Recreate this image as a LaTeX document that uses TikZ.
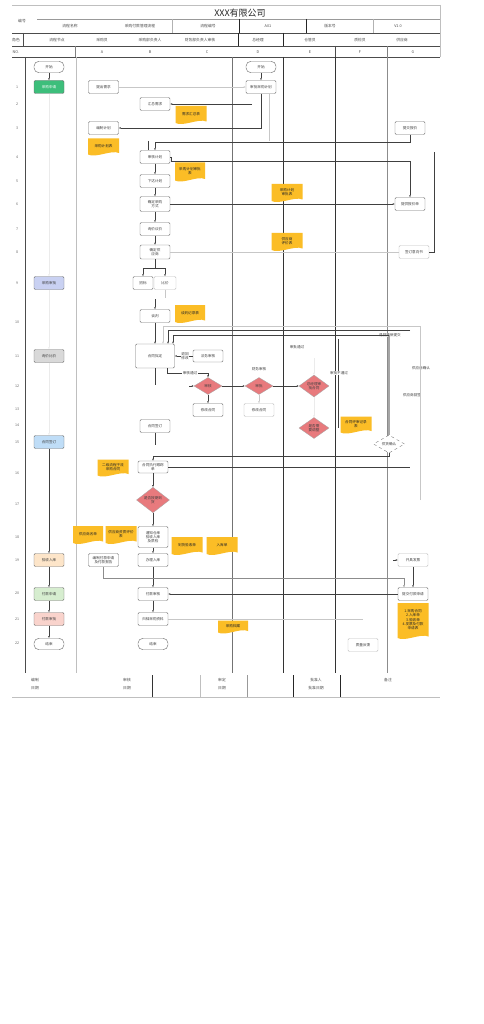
\documentclass[tikz,border=0pt]{standalone}
\usepackage{fontspec}
\setmainfont{Noto Sans CJK SC}
\usetikzlibrary{shapes.geometric,arrows.meta}
\definecolor{docorange}{HTML}{FBBD26}
\definecolor{diared}{HTML}{E87A7D}
\definecolor{cgreen}{HTML}{3DBE7B}
\definecolor{clav}{HTML}{C9D1F2}
\definecolor{cgray}{HTML}{D9D9D9}
\definecolor{cblue}{HTML}{BFDDF7}
\definecolor{cpeach}{HTML}{FDE5C9}
\definecolor{clgreen}{HTML}{D6EDCF}
\definecolor{cpink}{HTML}{F9D3CC}
\newcommand{\docnode}[6]{%
  \fill[docorange] ({#2-#4/2},{#3-#5/2}) -- ({#2+#4/2},{#3-#5/2}) -- ({#2+#4/2},{#3+#5/2-2.5}) .. controls ({#2+#4/4},{#3+#5/2-6}) and ({#2-#4/4},{#3+#5/2+3}) .. ({#2-#4/2},{#3+#5/2-1}) -- cycle;
  \node[doctext] (#1) at (#2,{#3-1.2}) {#6};
}
\begin{document}
\begin{tikzpicture}[x=1pt,y=-1pt,
  tx/.style={font=\fontsize{3.6}{4.2}\selectfont, text=black!75, align=center, inner sep=0.3pt},
  htx/.style={font=\fontsize{3.8}{4.4}\selectfont, text=black!70, align=center, inner sep=0.3pt},
  box/.style={tx, draw=black!55, line width=0.45pt, fill=white, rounded corners=1.2pt, minimum width=30pt, minimum height=13pt},
  lbox/.style={box, draw=black!25},
  term/.style={box, rounded corners=5pt, minimum height=11.5pt},
  dia/.style={tx, diamond, draw=black!35, line width=0.3pt, fill=diared, minimum width=28pt, minimum height=17pt, inner sep=0pt},
  doctext/.style={tx, text=black!85},
  ln/.style={draw=black!75, line width=0.6pt},
  lt/.style={draw=black!22, line width=0.6pt},
  faint/.style={draw=black!8, line width=0.5pt},
  arr/.style={-{Latex[length=2pt,width=1.8pt]}},
  lbl/.style={tx, fill=white, inner sep=0.4pt}
]
\useasboundingbox (0,0) rectangle (483,1024);
\fill[white] (0,0) rectangle (483,1024);

% ---------- header ----------
\draw[black!25, line width=0.5pt] (12,5) -- (440,5);
\draw[black!40, line width=0.5pt] (37,19) -- (440,19);
\draw[black!70, line width=0.6pt] (12,33) -- (440,33);
\draw[black!70, line width=0.6pt] (12,46) -- (440,46);
\draw[black!70, line width=0.6pt] (12,57) -- (440,57);
\draw[black!25, line width=0.5pt] (440,5) -- (440,57);
\draw[black!30, line width=0.5pt] (172,19) -- (172,33);
\draw[black!85, line width=0.8pt] (239,19) -- (239,33);
\draw[black!85, line width=0.8pt] (306,19) -- (306,33);
\draw[black!30, line width=0.5pt] (373,19) -- (373,33);
\draw[black!70, line width=0.6pt] (23,33) -- (23,46);
\draw[black!85, line width=0.8pt] (238,33) -- (238,46);
\draw[black!85, line width=0.8pt] (283,33) -- (283,46);
\draw[black!50, line width=0.5pt] (75,46) -- (75,57);
\draw[black!70, line width=0.6pt] (335,46) -- (335,57);
\draw[black!50, line width=0.5pt] (387,46) -- (387,57);

\node[font=\fontsize{9}{10}\selectfont, text=black!85, inner sep=0pt] (title) at (240,13) {XXX有限公司};
\node[htx] (h00) at (22,21) {编号};
\node[htx] (h21) at (70,26) {流程名称};
\node[htx] (h22) at (140,26) {采购付款管理流程};
\node[htx] (h23) at (208,26) {流程编号};
\node[htx] (h24) at (268,26) {A01};
\node[htx] (h25) at (330,26) {版本号};
\node[htx] (h26) at (398,26) {V1.0};
\node[htx] (h31) at (16,40) {角色};
\node[htx] (h32) at (57,40) {流程节点};
\node[htx] (h33) at (102,40) {采购员};
\node[htx] (h34) at (150,40) {采购部负责人};
\node[htx] (h35) at (200,40) {财务部负责人审核};
\node[htx] (h36) at (258,40) {总经理};
\node[htx] (h37) at (310,40) {仓管员};
\node[htx] (h38) at (360,40) {质检员};
\node[htx] (h39) at (402,40) {供应商};
\node[htx] (h41) at (16,52) {NO.};
\node[htx] (h42) at (102,52) {A};
\node[htx] (h43) at (150,52) {B};
\node[htx] (h44) at (207,52) {C};
\node[htx] (h45) at (258,52) {D};
\node[htx] (h46) at (310,52) {E};
\node[htx] (h47) at (360,52) {F};
\node[htx] (h48) at (413,52) {G};

% ---------- lanes ----------
\draw[black!70, line width=0.6pt] (25,57) -- (25,673);
\draw[black!25, line width=0.6pt] (76,57) -- (76,673);
\draw[black!55, line width=0.6pt] (232,57) -- (232,673);
\draw[black!80, line width=0.6pt] (283,57) -- (283,673);
\draw[black!80, line width=0.6pt] (335,57) -- (335,673);
\draw[black!45, line width=0.6pt] (387,57) -- (387,673);

% ---------- footer ----------
\draw[black!25, line width=0.5pt] (12,697) -- (440,697);
\draw[black!80, line width=0.6pt] (152,675) -- (152,697);
\draw[black!25, line width=0.5pt] (200,675) -- (200,697);
\draw[black!40, line width=0.5pt] (247,675) -- (247,697);
\draw[black!85, line width=0.6pt] (293,675) -- (293,697);
\draw[black!85, line width=0.6pt] (340,675) -- (340,697);
\node[htx] (f1) at (35,680) {编制};
\node[htx] (f2) at (35,688) {日期};
\node[htx] (f3) at (127,680) {审核};
\node[htx] (f4) at (127,688) {日期};
\node[htx] (f5) at (222,680) {审定};
\node[htx] (f6) at (222,688) {日期};
\node[htx] (f7) at (316,680) {批准人};
\node[htx] (f8) at (316,688) {批准日期};
\node[htx] (f9) at (388,680) {备注};

% ---------- row numbers ----------
\foreach \n/\y in {1/87,2/104,3/128,4/157,5/181,6/204,7/229,8/252,9/283,10/322,11/356,12/386,13/409,14/425,15/442,16/473,17/504,18/537,19/560,20/593,21/619,22/643}
  \node[tx, text=black!60] (r\n) at (17,\y) {\n};

% ---------- documents ----------
\docnode{a3d}{103.5}{147}{31}{17}{采购计划表}
\docnode{b2d}{191}{115}{31}{18}{需求汇总表}
\docnode{b4d}{190}{172}{30}{19}{采购计划审批\\表}
\docnode{d6d}{287}{193}{31}{18}{采购计划\\审批表}
\docnode{d8d}{287}{242}{31}{18}{供应商\\评价表}
\docnode{b10d}{190}{314}{30}{18}{谈判记录表}
\docnode{d14d}{356}{425}{31}{17}{合同评审记录\\表}
\docnode{a16d}{113}{468}{31}{17}{二级流程子流\\采购合同}
\docnode{a18a}{88}{535}{30}{18}{供应商名单}
\docnode{a18b}{121}{535}{31}{18}{供应商资质评价\\表}
\docnode{b18a}{187}{546}{31}{18}{到货验收单}
\docnode{b18b}{222}{546}{31}{18}{入库单}
\docnode{b21d}{233}{627}{30}{13}{采购档案}
\docnode{g20d}{413}{621}{31}{36}{1.采购合同\\2.入库单\\3.验收单\\4.发票及付款\\申请表}

% ---------- node column ----------
\node[term] (n0) at (49,67) {开始};
\node[box, fill=cgreen, text=white] (g1) at (49,87) {采购申请};
\node[box, fill=clav] (g9) at (49,283) {采购审批};
\node[box, fill=cgray] (g11) at (49,356) {询价比价};
\node[box, fill=cblue] (g15) at (49,442) {合同签订};
\node[box, fill=cpeach] (g19) at (49,560) {验收入库};
\node[box, fill=clgreen] (g20) at (49,594) {付款申请};
\node[box, fill=cpink] (g21) at (49,619) {付款审批};
\node[term] (g22) at (49,644) {结束};

% ---------- lane A ----------
\node[box] (a1) at (103.5,87) {提出需求};
\node[box] (a3) at (103.5,128) {编制计划};
\node[box] (a19) at (103.5,560) {编制付款申请\\及付款报告};

% ---------- lane B / C ----------
\node[box] (b2) at (155,104) {汇总需求};
\node[box] (b4) at (155,157) {审核计划};
\node[box] (b5) at (155,181) {下达计划};
\node[box, minimum height=15pt] (b6) at (155,204) {确定采购\\方式};
\node[box] (b7) at (155,229) {询价议价};
\node[box, minimum height=14pt] (b8) at (155,252) {确定供\\应商};
\node[box, minimum width=20pt] (b9a) at (143,283) {招标};
\node[lbox, minimum width=22pt] (b9b) at (165,283) {比价};
\node[box] (b10) at (155,316) {谈判};
\node[box, minimum width=39pt, minimum height=24pt] (b11) at (155,356) {合同拟定};
\node[box, minimum height=12pt] (b11r) at (208,356) {法务审核};
\node[dia] (d12a) at (208,386) {审核};
\node[box] (b13a) at (208,410) {修改合同};
\node[box] (b14) at (155,426) {合同签订};
\node[box, minimum height=12pt] (b16) at (153,467) {合同执行跟踪\\单};
\node[dia, minimum width=33pt, minimum height=25pt] (d17) at (153,500) {是否按期到\\货};
\node[box, minimum height=21pt] (b18) at (153,537) {通知仓库\\验收入库\\及质检};
\node[box] (b19) at (153,560) {办理入库};
\node[box] (b20) at (153,594) {付款审核};
\node[box] (b21) at (153,619) {归档采购资料};
\node[term] (b22) at (153,644) {结束};

% ---------- lane D / E ----------
\node[term] (d0) at (261,67) {开始};
\node[box] (d1) at (261,87) {审批采购计划};
\node[dia] (d12b) at (259,386) {审批};
\node[lbox] (b13b) at (259,410) {修改合同};
\node[dia, minimum width=30pt, minimum height=22pt] (d12c) at (314,386) {总经理审\\批合同};
\node[dia, minimum width=30pt, minimum height=21pt] (d14) at (314,428) {是否需\\要调整};

% ---------- lane G ----------
\node[box] (g3) at (410,128) {提交报价};
\node[box] (g6) at (410,204) {提供报价单};
\node[lbox] (g8) at (414,252) {签订意向书};
\node[dia, fill=white, dashed, draw=black!60, minimum width=31pt, minimum height=18pt] (d15) at (389,444) {供货确认};
\node[lbox] (gg19) at (413,560) {开具发票};
\node[box] (gg20) at (413,594) {提交付款申请};
\node[lbox] (f21) at (363,645) {质量反馈};

% ---------- labels ----------
\node[lbl] (lb1) at (185,356) {退回\\修改};
\node[tx] (lb3) at (259,369) {财务审核};
\node[tx] (lb4) at (297,347) {审批通过};
\node[lbl] (lb6) at (390,335) {退回重新提交};
\node[tx] (lb7) at (421,368) {供应商确认};
\node[tx] (lb8) at (412,395) {供应商回签};

% ---------- connectors: node column ----------
\draw[ln,arr] (n0) -- (g1);
\draw[faint,arr] (g1) -- (g9);
\draw[faint,arr] (g9) -- (g11);
\draw[faint,arr] (g11) -- (g15);
\draw[ln,arr] (g15) -- (g19);
\draw[ln,arr] (g19) -- (g20);
\draw[ln,arr] (g20) -- (g21);
\draw[ln,arr] (g21) -- (g22);

% ---------- connectors: top ----------
\draw[lt,arr] (a1) -- (d1);
\draw[ln,arr] (d0) -- (d1);
\draw[ln,arr] (d1.south) |- (a3);
\coordinate (c104) at (252,104);
\draw[ln,arr] (c104) -- (b2);
\coordinate (c141) at (269,141);
\draw[lt] ([xshift=8pt]d1.south) -- (c141);
\draw[ln,arr] (g3.south) -- ++(0,8) -| (b4.north);
\coordinate (c148a) at (148,141);
\coordinate (c148b) at (148,150);
\draw[ln] (c148a) -- (c148b);
\coordinate (k161) at (410,161);
\draw[ln,arr] (b4.east) -- ++(1,0) |- (k161) -- (g6.north);
\draw[ln,arr] (b4) -- (b5);
\draw[ln,arr] (b5) -- (b6);
\draw[ln,arr] (b6) -- (b7);
\draw[ln,arr] (b7) -- (b8);
\draw[ln,arr] (b6) -- (g6);
\draw[lt] (b8) -- (g8);
\coordinate (c152) at (434,152);
\draw[ln] (g8.east) -| (c152);
\coordinate (fk) at (155,268);
\draw[ln] (b8.south) -- (fk);
\draw[ln,arr] (fk) -| (b9a.north);
\draw[ln,arr] (fk) -| (b9b.north);
\draw[lt] (b9b.south) -- ++(0,8);
\coordinate (c299) at (155,299);
\draw[ln,arr] (c299) -- (b10.north);
\draw[ln,arr] (b10) -- (b11);

% ---------- connectors: middle ----------
\coordinate (L1s) at (420,500);
\coordinate (L1c) at (420,326);
\draw[lt,arr] (L1s) -- (L1c) -| ([xshift=8pt]b11.north);
\coordinate (L2s) at (410,330);
\draw[ln,arr] (L2s) -| ([xshift=13pt]b11.north);
\coordinate (L3c) at (389,335);
\draw[draw=black!35, line width=1.2pt] (d15.north) -- (L3c);
\draw[ln,arr] (L3c) -| ([xshift=18pt]b11.north);
\draw[ln,arr] (b11r) -- (lb1) -- (b11);
\draw[ln,arr] ([xshift=12pt]b11.south) -- ++(0,5) -| (d12a.north);
\node[lbl] (lb2) at (190,373) {审核通过};
\coordinate (c385) at (155,385);
\draw[ln] (b11.south) -- (c385);
\coordinate (c193) at (189,386);
\draw[ln,arr] (c193) -- (d12a.west);
\draw[ln,arr] (d12a) -- (d12b);
\draw[ln,arr] (d12b) -- (d12c);
\draw[ln,arr] (d12a) -- (b13a);
\draw[lt,arr] (d12b) -- (b13b);
\coordinate (c358) at (314,358);
\draw[faint,arr] (c358) -- (d12c.north);
\draw[faint,arr] (d12c) -- (d14);
\coordinate (v1) at (338,339);
\coordinate (v2) at (338,428);
\draw[ln] (v1) -- (v2);
\node[lbl] (lb5) at (339,373) {审批不通过};
\coordinate (c443) at (155,445);
\draw[ln] (b14.south) -- (c443);
\draw[ln,arr] (d15.south) -- ++(0,3) -| (b16.north);
\coordinate (c467) at (410,467);
\draw[ln] (b16.east) -- (c467);

% ---------- connectors: bottom ----------
\draw[ln,arr] (b16) -- (d17);
\draw[ln,arr] (d17) -- (b18);
\draw[ln,arr] (b18) -- (b19);
\draw[ln,arr] (b19) -- (b20);
\draw[ln,arr] (b20) -- (b21);
\coordinate (k578) at (404,578);
\draw[draw=black!45, line width=0.6pt, arr] (a19.south) |- (k578) -- (k578 |- gg20.north);
\draw[ln,arr] (gg19) -- (gg20);
\coordinate (c397) at (393,560);
\draw[ln,arr] (c397) -- (gg19.west);
\draw[ln,arr] (gg20) -- (b20);
\coordinate (c618) at (363,619);
\draw[lt] (b21.east) -- (c618);
\end{tikzpicture}
\end{document}
